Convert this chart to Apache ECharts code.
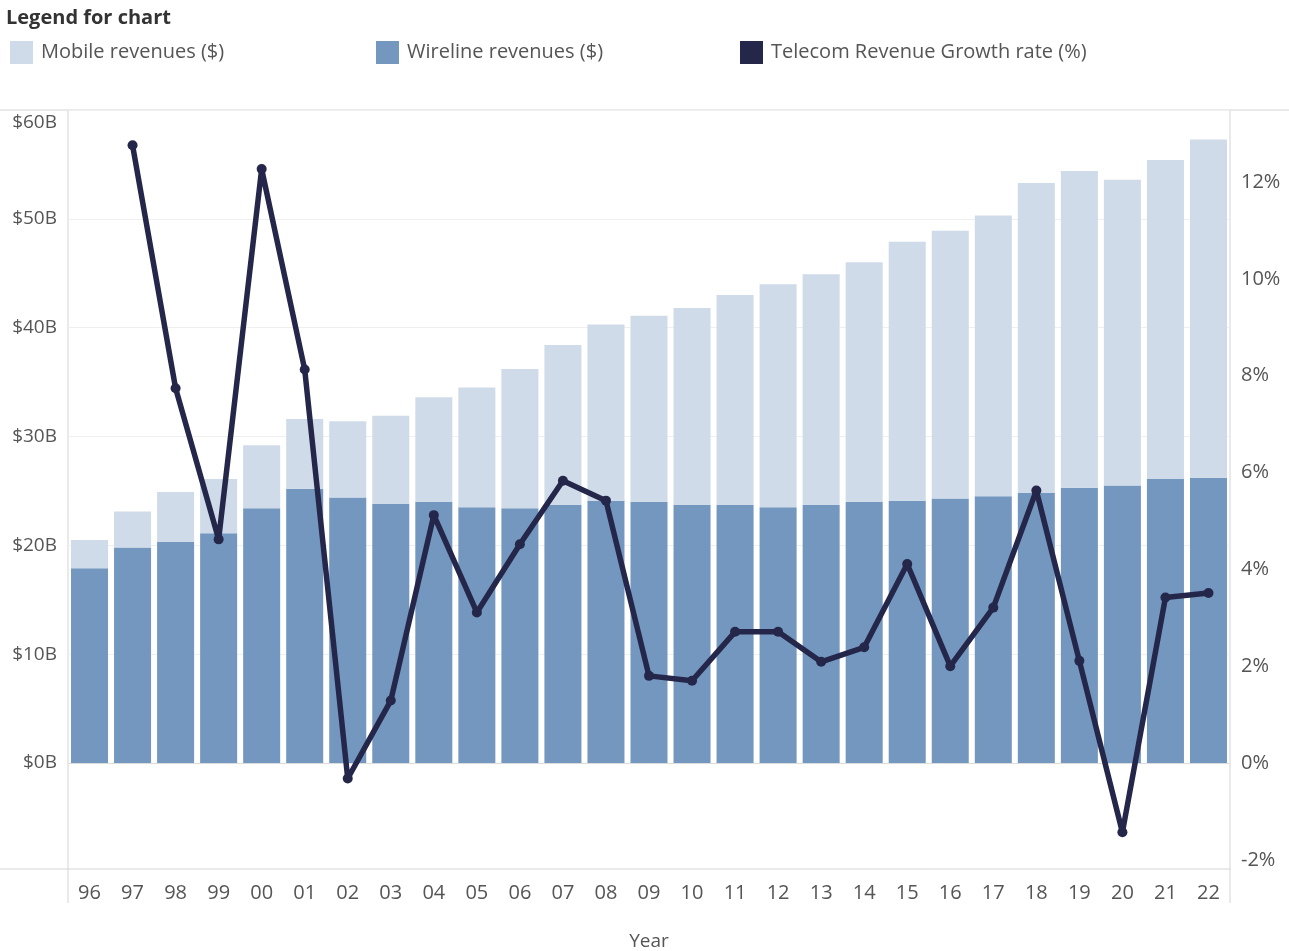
<!DOCTYPE html>
<html>
<head>
<meta charset="utf-8">
<script src="https://cdn.jsdelivr.net/npm/echarts@6/dist/echarts.min.js"></script>
<style>
    html, body { margin: 0; padding: 0; background: #fff; }
    #main { width: 1289px; height: 951px; }
</style>
</head>
<body>
<div id="main"></div>
<script>
// values
var years = ['96', '97', '98', '99', '00', '01', '02', '03', '04', '05', '06', '07', '08', '09',
    '10', '11', '12', '13', '14', '15', '16', '17', '18', '19', '20', '21', '22'];
// $B
var wireline = [17.9, 19.8, 20.3, 21.1, 23.4, 25.2, 24.4, 23.8, 24.0, 23.5, 23.4, 23.7, 24.1, 24.0,
    23.7, 23.7, 23.5, 23.7, 24.0, 24.1, 24.3, 24.5, 24.8, 25.3, 25.5, 26.1, 26.2];
var mobile = [2.6, 3.3, 4.6, 5.0, 5.8, 6.4, 7.0, 8.1, 9.6, 11.0, 12.8, 14.7, 16.2, 17.1,
    18.1, 19.3, 20.5, 21.2, 22.0, 23.8, 24.6, 25.8, 28.5, 29.1, 28.1, 29.3, 31.1];
// %
var growth = [null, 12.76, 7.74, 4.62, 12.27, 8.13, -0.32, 1.29, 5.12, 3.11, 4.52, 5.83, 5.42, 1.80,
    1.70, 2.71, 2.71, 2.09, 2.39, 4.11, 2.00, 3.21, 5.63, 2.11, -1.43, 3.42, 3.51];
var leftTicks = [0, 10, 20, 30, 40, 50, 60];
var rightTicks = [-2, 0, 2, 4, 6, 8, 10, 12];

var FONT = '"Open Sans", "Noto Sans", sans-serif';
var TXT = '#555555';
var LINE = '#d4d4d4';

var myChart = echarts.init(document.getElementById('main'));

function legendAt(x, name) {
    return {
        left: x,
        top: 36,
        icon: 'rect',
        itemWidth: 23,
        itemHeight: 23,
        itemGap: 0,
        selectedMode: false,
        data: [name],
        textStyle: { color: TXT, fontSize: 20, fontFamily: FONT, padding: [0, 0, 0, 3] }
    };
}

var option = {
    animation: false,
    title: {
        text: 'Legend for chart',
        left: 1,
        top: 3,
        textStyle: { color: '#333', fontSize: 20, fontWeight: 'bold', fontFamily: FONT }
    },
    legend: [
        legendAt(5, 'Mobile revenues ($)'),
        legendAt(371, 'Wireline revenues ($)'),
        legendAt(735, 'Telecom Revenue Growth rate (%)')
    ],
    grid: { left: 68, right: 59, top: 110, bottom: 82, containLabel: false, outerBoundsMode: 'none' },
    graphic: [
        // frame lines like the original layout
        { type: 'line', shape: { x1: 0, y1: 110, x2: 1289, y2: 110 }, style: { stroke: LINE, lineWidth: 1 } },
        { type: 'line', shape: { x1: 0, y1: 869, x2: 1230, y2: 869 }, style: { stroke: LINE, lineWidth: 1 } },
        { type: 'line', shape: { x1: 68, y1: 110, x2: 68, y2: 903 }, style: { stroke: LINE, lineWidth: 1 } },
        { type: 'line', shape: { x1: 1230, y1: 110, x2: 1230, y2: 903 }, style: { stroke: LINE, lineWidth: 1 } }
    ],
    xAxis: {
        type: 'category',
        data: years,
        name: 'Year',
        nameLocation: 'middle',
        nameGap: 63,
        nameTextStyle: { color: TXT, fontSize: 19, fontFamily: FONT },
        axisLine: { show: false },
        axisTick: { show: false },
        axisLabel: { color: TXT, fontSize: 20, fontFamily: FONT, margin: 14, interval: 0 },
        splitLine: { show: false }
    },
    yAxis: [
        {
            type: 'value',
            min: -9.74,
            max: 60,
            axisLine: { show: false },
            axisTick: { show: false, customValues: leftTicks },
            axisLabel: {
                customValues: leftTicks,
                color: TXT,
                fontSize: 19,
                fontFamily: FONT,
                margin: 11,
                verticalAlignMaxLabel: 'top',
                padding: [3, 0, 0, 0],
                formatter: function (v) {
                    return '$' + v + 'B';
                }
            },
            splitLine: { show: true, lineStyle: { color: '#efefef', width: 1 } }
        },
        {
            type: 'value',
            min: -2.19,
            max: 13.49,
            position: 'right',
            axisLine: { show: false },
            axisTick: { show: false, customValues: rightTicks },
            axisLabel: {
                customValues: rightTicks,
                color: TXT,
                fontSize: 20,
                fontFamily: FONT,
                margin: 11,
                formatter: function (v) {
                    return v + '%';
                }
            },
            splitLine: { show: false }
        }
    ],
    series: [
        {
            name: 'Wireline revenues ($)',
            type: 'bar',
            stack: 'rev',
            data: wireline,
            barCategoryGap: '14%',
            itemStyle: { color: '#7397bf' }
        },
        {
            name: 'Mobile revenues ($)',
            type: 'bar',
            stack: 'rev',
            data: mobile,
            itemStyle: { color: '#cfdbe8' },
            markLine: {
                silent: true,
                symbol: 'none',
                label: { show: false },
                lineStyle: { color: '#dcdcdc', type: 'solid', width: 1 },
                data: [{ yAxis: 0 }]
            }
        },
        {
            name: 'Telecom Revenue Growth rate (%)',
            type: 'line',
            yAxisIndex: 1,
            data: growth,
            symbol: 'circle',
            symbolSize: 10,
            connectNulls: false,
            lineStyle: { color: '#25274a', width: 5.5 },
            itemStyle: { color: '#25274a' },
            z: 5
        }
    ]
};
myChart.setOption(option);
</script>
</body>
</html>
